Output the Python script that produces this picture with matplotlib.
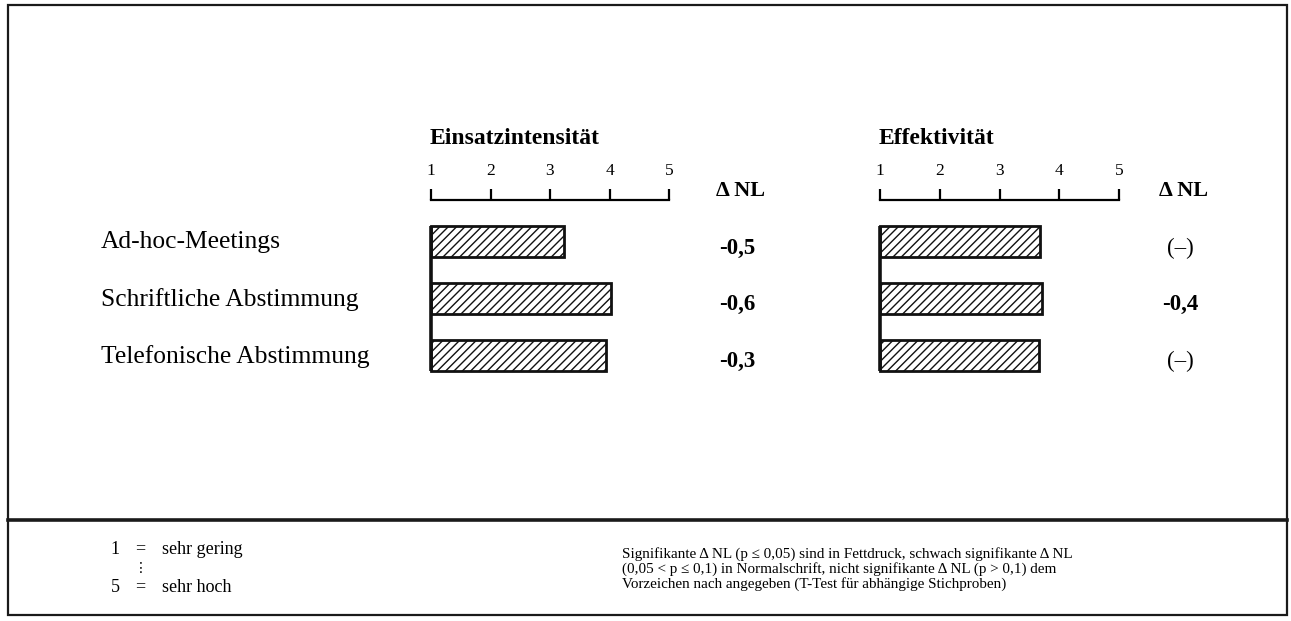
import matplotlib
matplotlib.use("Agg")
import matplotlib.pyplot as plt
from matplotlib.lines import Line2D
from matplotlib.patches import Rectangle

# data
categories = ["Ad-hoc-Meetings", "Schriftliche Abstimmung", "Telefonische Abstimmung"]
einsatz = [3.24, 4.02, 3.94]
effekt = [3.68, 3.71, 3.66]
einsatz_dnl = ["-0,5", "-0,6", "-0,3"]
einsatz_bold = [True, True, True]
effekt_dnl = ["(–)", "-0,4", "(–)"]
effekt_bold = [False, True, False]
scale_ticks = [1, 2, 3, 4, 5]
footer_right = [
    "Signifikante Δ NL (p ≤ 0,05) sind in Fettdruck, schwach signifikante Δ NL",
    "(0,05 < p ≤ 0,1) in Normalschrift, nicht signifikante Δ NL (p > 0,1) dem",
    "Vorzeichen nach angegeben (T-Test für abhängige Stichproben)",
]

W, H = 1291, 621
plt.rcParams["font.family"] = ["Liberation Serif", "DejaVu Serif", "DejaVu Sans"]
plt.rcParams["hatch.linewidth"] = 1.0

fig = plt.figure(figsize=(W / 100, H / 100), dpi=100)


def fx(px):
    return px / W


def fy(py):
    return 1 - py / H


# frame and separator
fig.add_artist(Rectangle((fx(8), fy(615)), fx(1287) - fx(8), fy(5) - fy(615),
                         transform=fig.transFigure, fill=False, lw=1.6, ec="#1a1a1a"))
fig.add_artist(Line2D([fx(8), fx(1287)], [fy(520), fy(520)],
                      transform=fig.transFigure, lw=2.6, color="#1a1a1a"))

BAR_H = 0.54


def panel(x0, x1, title, values, dnl, bold, dnl_x):
    ax = fig.add_axes([fx(x0), fy(384), fx(x1) - fx(x0), (384 - 200) / H])
    ax.set_xlim(1, 5)
    ax.set_ylim(2.5, -0.728)
    for s in ["left", "right", "bottom"]:
        ax.spines[s].set_visible(False)
    ax.spines["top"].set_linewidth(1.6)
    ax.xaxis.tick_top()
    ax.set_xticks(scale_ticks)
    ax.set_xticklabels([str(t) for t in scale_ticks])
    ax.tick_params(axis="x", direction="out", length=8, width=1.6, pad=7, labelsize=12.5)
    ax.set_yticks([])
    ax.patch.set_visible(False)
    ys = list(range(len(values)))
    bars = ax.barh(ys, [v - 1 for v in values], left=1, height=BAR_H,
                   color="white", edgecolor="#111111", hatch="////", lw=2.0)
    for b in bars:
        b.set_clip_on(False)
    # baseline joining the bars at scale value 1
    ax.plot([1, 1], [-BAR_H / 2, len(values) - 1 + BAR_H / 2], color="#111111",
            lw=2.6, clip_on=False, solid_capstyle="butt")
    fig.text(fx(x0 - 1), fy(138), title, fontsize=17, fontweight="bold",
             ha="left", va="center")
    fig.text(fx(dnl_x - 21), fy(191), "Δ NL", fontsize=16, fontweight="bold",
             ha="left", va="center")
    for i, (t, b) in enumerate(zip(dnl, bold)):
        fig.text(fx(dnl_x), fy(248 + 56.5 * i), t, fontsize=16.5,
                 fontweight="bold" if b else "normal", ha="center", va="center")
    return ax


panel(431, 669, "Einsatzintensität", einsatz, einsatz_dnl, einsatz_bold, 737)
panel(880, 1119, "Effektivität", effekt, effekt_dnl, effekt_bold, 1180)

for i, c in enumerate(categories):
    fig.text(fx(101), fy(242 + 57.5 * i), c, fontsize=18.4, ha="left", va="center")

# footer
fs_left = 13
fig.text(fx(115), fy(549), "1", fontsize=fs_left, ha="center", va="center")
fig.text(fx(140), fy(549), "=", fontsize=fs_left, ha="center", va="center")
fig.text(fx(162), fy(549), "sehr gering", fontsize=fs_left, ha="left", va="center")
fig.text(fx(141), fy(568), "⋮", fontsize=10, ha="center", va="center",
         family=["DejaVu Sans"])
fig.text(fx(115), fy(587), "5", fontsize=fs_left, ha="center", va="center")
fig.text(fx(140), fy(587), "=", fontsize=fs_left, ha="center", va="center")
fig.text(fx(162), fy(587), "sehr hoch", fontsize=fs_left, ha="left", va="center")
for i, line in enumerate(footer_right):
    fig.text(fx(622), fy(554 + 15 * i), line, fontsize=10.9, ha="left", va="center")

fig.savefig("out.png", dpi=100)
